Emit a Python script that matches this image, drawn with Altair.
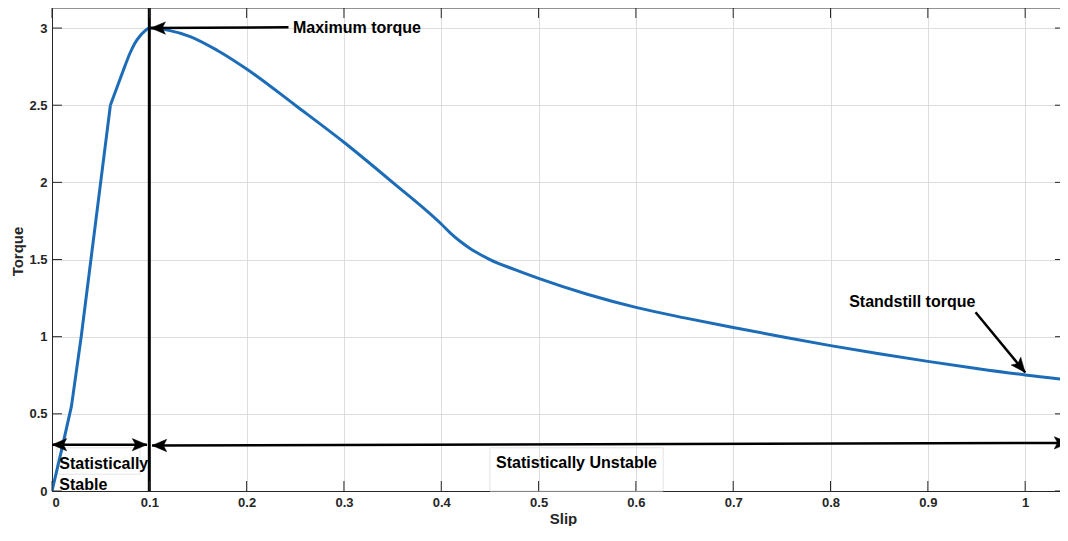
import altair as alt
import pandas as pd

# ---- data ----
slip = [0.0, 0.01, 0.02, 0.03, 0.04, 0.05, 0.06, 0.065, 0.07, 0.075, 0.08,
        0.085, 0.09, 0.095, 0.1, 0.12, 0.142, 0.17, 0.2, 0.25, 0.3, 0.35,
        0.4, 0.41, 0.42, 0.43, 0.44, 0.45, 0.475, 0.5, 0.55, 0.6, 0.65, 0.7,
        0.75, 0.8, 0.85, 0.9, 0.95, 1.0, 1.045]
torque = [0.0, 0.27, 0.55, 1.0, 1.5, 2.0, 2.5, 2.585, 2.67, 2.755, 2.835,
          2.9, 2.945, 2.978, 3.0, 2.985, 2.945, 2.855, 2.735, 2.5, 2.26, 2.0,
          1.73, 1.668, 1.615, 1.57, 1.533, 1.5, 1.436, 1.378, 1.275, 1.19, 1.122, 1.06,
          1.0, 0.942, 0.889, 0.84, 0.794, 0.752, 0.72]

x_ticks = [0, 0.1, 0.2, 0.3, 0.4, 0.5, 0.6, 0.7, 0.8, 0.9, 1]
y_ticks = [0, 0.5, 1, 1.5, 2, 2.5, 3]

# arrows: shaft start -> tip
arrow_x = [0.0976, 0.1028, 0.243, 0.949]
arrow_y = [0.30, 0.295, 3.005, 1.158]
arrow_x2 = [0.0, 1.045, 0.1015, 1.0]
arrow_y2 = [0.30, 0.312, 3.0, 0.768]
# heads (tip position, direction in degrees)
head_x = [0.0, 0.0976, 0.1028, 1.045, 0.1015, 1.0]
head_y = [0.30, 0.30, 0.295, 0.312, 3.0, 0.768]
head_angle = [180, 0, 180, 0, 180, 51]

left_text = ["Maximum torque", "Statistically", "Stable"]
left_x = [0.2476, 0.0075, 0.0075]
left_y = [3.0, 0.173, 0.040]
center_text = ["Standstill torque", "Statistically Unstable"]
center_x = [0.884, 0.539]
center_y = [1.228, 0.179]

box_x = [0.005, 0.450]
box_x2 = [0.0904, 0.628]
box_y = [0.109, 0.0]
box_y2 = [0.28, 0.28]

marker_x = [0.1]
knee = 0.06  # corner between the straight rise and the smooth part

W, H = 1008, 483
XD = [0, 1.0358]
YD = [0, 3.13]
FONT = "Liberation Sans"
INK = "#262626"
BLUE = "#1c6cb8"

xs = alt.Scale(domain=XD, nice=False, zero=False)
ys = alt.Scale(domain=YD, nice=False, zero=False)

curve_df = pd.DataFrame({"Slip": slip, "Torque": torque})
arrow_df = pd.DataFrame({"x": arrow_x, "y": arrow_y, "x2": arrow_x2, "y2": arrow_y2})
head_df = pd.DataFrame({"x": head_x, "y": head_y, "a": head_angle})
left_df = pd.DataFrame({"t": left_text, "x": left_x, "y": left_y})
center_df = pd.DataFrame({"t": center_text, "x": center_x, "y": center_y})
box_df = pd.DataFrame({"x": box_x, "x2": box_x2, "y": box_y, "y2": box_y2})
xt_df = pd.DataFrame({"v": x_ticks})
yt_df = pd.DataFrame({"v": y_ticks})
vline_df = pd.DataFrame({"x": marker_x})

base_x_axis = alt.Axis(values=x_ticks, format="~g", title="Slip", grid=True,
                       ticks=False, tickSize=0, domain=True, labelPadding=5,
                       titleX=511, titleY=27, titleBaseline="middle", titleAlign="center")
base_y_axis = alt.Axis(values=y_ticks, format="~g", title="Torque", grid=True,
                       ticks=False, tickSize=0, domain=True, labelPadding=5,
                       titleX=-35, titleY=243, titleAngle=-90, titleBaseline="middle",
                       titleAlign="center")

curve_rise = alt.Chart(curve_df).transform_filter(
    alt.datum.Slip <= knee
).mark_line(
    color=BLUE, strokeWidth=3, interpolate="linear", strokeJoin="round", clip=True
).encode(
    x=alt.X("Slip:Q", scale=xs, axis=base_x_axis),
    y=alt.Y("Torque:Q", scale=ys, axis=base_y_axis),
)

curve_fall = alt.Chart(curve_df).transform_filter(
    alt.datum.Slip >= knee
).mark_line(
    color=BLUE, strokeWidth=3, interpolate="monotone", strokeJoin="round", clip=True
).encode(
    x=alt.X("Slip:Q", scale=xs),
    y=alt.Y("Torque:Q", scale=ys),
)

boxes = alt.Chart(box_df).mark_rect(
    fill="white", fillOpacity=0, stroke="#e4e4e4", strokeWidth=1
).encode(
    x=alt.X("x:Q", scale=xs), x2="x2:Q",
    y=alt.Y("y:Q", scale=ys), y2="y2:Q",
)

vline = alt.Chart(vline_df).mark_rule(color="black", strokeWidth=3).encode(
    x=alt.X("x:Q", scale=xs)
)

top_border = alt.Chart(vline_df).mark_rule(color=INK, strokeWidth=1).encode(
    y=alt.value(0), x=alt.value(0), x2=alt.value(W)
)

shafts = alt.Chart(arrow_df).mark_rule(color="black", strokeWidth=2.5).encode(
    x=alt.X("x:Q", scale=xs), y=alt.Y("y:Q", scale=ys),
    x2="x2:Q", y2="y2:Q",
)

heads = alt.Chart(head_df).mark_point(
    shape="M0,0 L-1,-0.42 L-0.78,0 L-1,0.42 Z",
    filled=True, fill="black", stroke="black", strokeWidth=0.5, opacity=1,
    size=860,
).encode(
    x=alt.X("x:Q", scale=xs), y=alt.Y("y:Q", scale=ys),
    angle=alt.Angle("a:Q", scale=None),
)

text_style = dict(font=FONT, fontSize=16, fontWeight="bold", color="black", baseline="middle")
labels_left = alt.Chart(left_df).mark_text(align="left", **text_style).encode(
    x=alt.X("x:Q", scale=xs), y=alt.Y("y:Q", scale=ys), text="t:N")
labels_center = alt.Chart(center_df).mark_text(align="center", **text_style).encode(
    x=alt.X("x:Q", scale=xs), y=alt.Y("y:Q", scale=ys), text="t:N")

tick_style = dict(color=INK, strokeWidth=1)
t_left = alt.Chart(yt_df).mark_rule(**tick_style).encode(
    y=alt.Y("v:Q", scale=ys), x=alt.value(0), x2=alt.value(10))
t_right = alt.Chart(yt_df).mark_rule(**tick_style).encode(
    y=alt.Y("v:Q", scale=ys), x=alt.value(W), x2=alt.value(W - 5))
t_bottom = alt.Chart(xt_df).mark_rule(**tick_style).encode(
    x=alt.X("v:Q", scale=xs), y=alt.value(H), y2=alt.value(H - 10))
t_top = alt.Chart(xt_df).mark_rule(**tick_style).encode(
    x=alt.X("v:Q", scale=xs), y=alt.value(0), y2=alt.value(10))

chart = alt.layer(
    boxes, curve_rise, curve_fall, vline, top_border, shafts, heads,
    labels_left, labels_center, t_left, t_right, t_bottom, t_top
).properties(
    width=W, height=H,
    autosize=alt.AutoSizeParams(type="none"),
    padding={"left": 44, "top": 0, "right": 0, "bottom": 35},
).configure_view(
    stroke=None
).configure_axis(
    labelFont=FONT, labelFontSize=13, labelFontWeight="bold", labelColor=INK,
    titleFont=FONT, titleFontSize=15, titleFontWeight="bold", titleColor=INK,
    gridColor="#dedede", gridWidth=1, gridOpacity=1,
    domainColor=INK, domainWidth=1,
)

chart.save("out.html", embed_options={"renderer": "svg", "actions": False})
